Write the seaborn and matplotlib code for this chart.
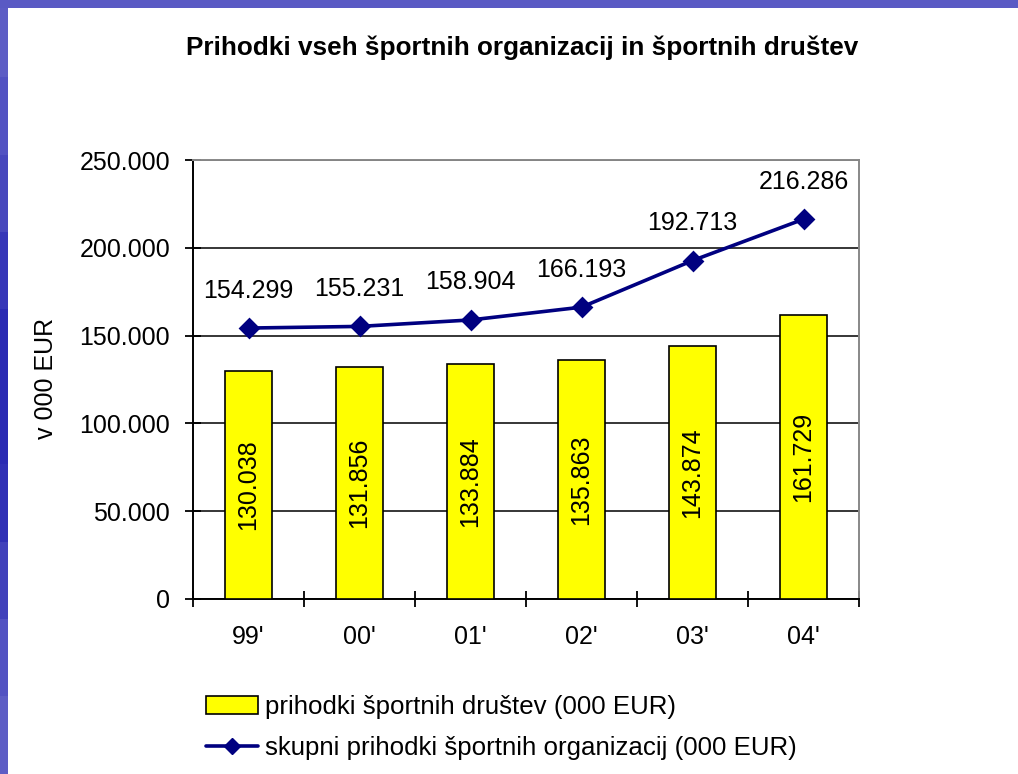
import numpy as np
import pandas as pd
import matplotlib
matplotlib.use("Agg")
import matplotlib.pyplot as plt
import seaborn as sns
from matplotlib.patches import Patch
from matplotlib.lines import Line2D
from matplotlib.ticker import FixedLocator, FuncFormatter

years = ["99'", "00'", "01'", "02'", "03'", "04'"]
drustva = [130038, 131856, 133884, 135863, 143874, 161729]
skupni = [154299, 155231, 158904, 166193, 192713, 216286]
yticks = [0, 50000, 100000, 150000, 200000, 250000]

title = "Prihodki vseh športnih organizacij in športnih društev"
ylabel = "v 000 EUR"
label_bars = "prihodki športnih društev (000 EUR)"
label_line = "skupni prihodki športnih organizacij (000 EUR)"

sns.set_theme(style="white")
plt.rcParams['font.family'] = ['Liberation Sans', 'DejaVu Sans']
plt.rcParams['text.color'] = 'black'

df = pd.DataFrame({"leto": years, "drustva": drustva, "skupni": skupni})

fig = plt.figure(figsize=(10.18, 7.74), dpi=100)
fig.patch.set_facecolor("white")

# slide-like blue border (left and top)
grad = np.array([0.55, 0.45, 0.35, 0.2, 0.1, 0.1, 0.15, 0.3, 0.45, 0.55])[:, None]
lax = fig.add_axes([0, 0, 8 / 1018, 1])
lax.imshow(grad, aspect="auto", cmap=matplotlib.colors.LinearSegmentedColormap.from_list(
    "b", ["#2020b0", "#9090d8"]), vmin=0, vmax=1, extent=[0, 1, 0, 1])
lax.set_axis_off()
tax = fig.add_axes([0, 1 - 8 / 774, 1, 8 / 774])
tax.set_facecolor("#5a5ac4")
tax.set_xticks([]); tax.set_yticks([])
for s in tax.spines.values():
    s.set_visible(False)

ax = fig.add_axes([193 / 1018, 1 - 599 / 774, (859 - 193) / 1018, (599 - 160) / 774])
ax.set_facecolor("white")

sns.barplot(data=df, x="leto", y="drustva", color="#ffff00", edgecolor="black",
            linewidth=1.2, width=0.415, saturation=1, ax=ax, zorder=3)
sns.pointplot(data=df, x="leto", y="skupni", color="#000080", markers="D",
              markersize=9, linewidth=2.6, ax=ax, zorder=4)

ax.set_ylim(0, 250000)
ax.set_xlim(-0.5, 5.5)
ax.yaxis.set_major_locator(FixedLocator(yticks))
ax.yaxis.set_major_formatter(FuncFormatter(lambda v, p: f"{int(v):,}".replace(",", ".")))
ax.grid(axis="y", color="black", linewidth=1.1, zorder=0)
ax.set_axisbelow(True)
ax.set_xlabel("")
ax.set_ylabel("")

ax.xaxis.set_minor_locator(FixedLocator(np.arange(-0.5, 6, 1.0)))
ax.tick_params(axis="x", which="major", length=0, pad=19, labelsize=18, colors="black")
ax.tick_params(axis="x", which="minor", length=11, width=1.3, direction="inout",
               color="black", bottom=True)
ax.tick_params(axis="y", which="major", length=11, width=1.3, direction="inout",
               pad=11, labelsize=18, colors="black", left=True)

for side in ["left", "bottom"]:
    ax.spines[side].set_color("black")
    ax.spines[side].set_linewidth(1.4)
for side in ["top", "right"]:
    ax.spines[side].set_color("#888888")
    ax.spines[side].set_linewidth(1.4)

# bar value labels
for i, v in enumerate(drustva):
    ax.text(i, v / 2, f"{v:,}".replace(",", "."), rotation=90, ha="center",
            va="center", fontsize=18, color="black", zorder=5)
# line value labels
for i, v in enumerate(skupni):
    ax.annotate(f"{v:,}".replace(",", "."), (i, v), xytext=(0, 27),
                textcoords="offset points", ha="center", va="center",
                fontsize=18, color="black", zorder=5)

fig.text(522 / 1018, 1 - 48 / 774, title, ha="center", va="center",
         fontsize=18.8, fontweight="bold", color="black")
fig.text(46 / 1018, 1 - 378 / 774, ylabel, rotation=90, ha="center", va="center",
         fontsize=18, color="black")

handles = [Patch(facecolor="#ffff00", edgecolor="black", linewidth=1.2, label=label_bars),
           Line2D([0], [0], color="#000080", linewidth=2.6, marker="D", markersize=8,
                  label=label_line)]
fig.legend(handles=handles, loc="upper left", bbox_to_anchor=(206 / 1018, 1 - 695 / 774),
           frameon=False, fontsize=18.6, handlelength=2.0, handletextpad=0.3,
           labelspacing=0.66, borderpad=0, borderaxespad=0, labelcolor="black")

fig.savefig("out.png", dpi=100, facecolor="white")
